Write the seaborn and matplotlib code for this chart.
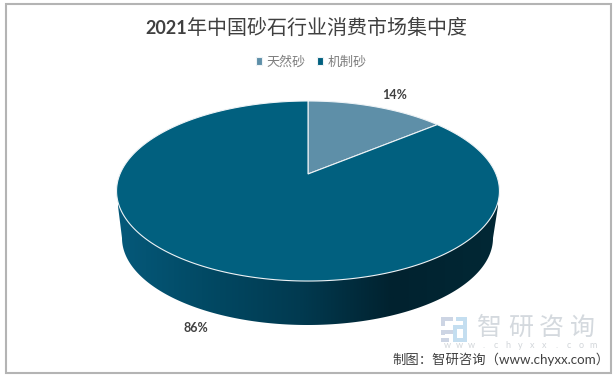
import numpy as np
import matplotlib
matplotlib.use("Agg")
import matplotlib.pyplot as plt
import seaborn as sns
from matplotlib.colors import LinearSegmentedColormap
from matplotlib.patches import Polygon, Rectangle

# data
categories = ["天然砂", "机制砂"]
shares = [14, 86]
title_year = "2021"
title_rest = "年中国砂石行业消费市场集中度"
source = "制图：智研咨询（www.chyxx.com）"

sns.set_theme(style="white")
plt.rcParams["font.family"] = ["Noto Sans CJK SC", "DejaVu Sans"]
colors = sns.color_palette(["#5e8fa8", "#01607f"])

fig = plt.figure(figsize=(6.14, 3.77), dpi=100)
ax = fig.add_axes([0, 0, 1, 1])

wedges, _ = ax.pie(shares, startangle=90, counterclock=False, colors=colors)


# flat circle -> tilted disc, in pixels (near side looks bigger)
def tilt(x, y):
    d = 1 + 0.189 * y
    return 308 + 188 * x / d, 174 - 86.8 * y / d


# side wall of the disc with a left to right shade
t = np.linspace(np.pi, 2 * np.pi, 200)
wall_x = 307.5 + 185.5 * np.cos(t)
wall_y = 238 - 87 * np.sin(t)
wall_pts = np.column_stack([wall_x, wall_y])
wall_pts = np.vstack([wall_pts, [[498, 206], [498, 190], [118, 190], [118, 206]]])
wall = Polygon(wall_pts, closed=True, fc="none", ec="none")
ax.add_patch(wall)
shade = LinearSegmentedColormap.from_list(
    "wall",
    [(0, "#05597a"), (0.22, "#024a65"), (0.48, "#013a50"), (0.72, "#01222f"), (1, "#012835")],
)
img = ax.imshow(np.linspace(0, 1, 256)[None, :], cmap=shade, aspect="auto",
                extent=(117, 499, 340, 180), zorder=1)
img.set_clip_path(wall)

# top face, rebuilt from the wedges of the pie
handles = []
for w, c in zip(wedges, colors):
    a = np.radians(np.linspace(w.theta1, w.theta2, 300))
    x, y = tilt(np.cos(a), np.sin(a))
    pts = np.vstack([[tilt(0, 0)], np.column_stack([x, y])])
    p = Polygon(pts, closed=True, fc=c, ec="#eef3f6", lw=0.8, zorder=2)
    ax.add_patch(p)
    handles.append(p)
    w.remove()

ax.set_aspect("auto")
ax.set_xlim(0, 614)
ax.set_ylim(377, 0)
ax.axis("off")

# outer frame
ax.add_patch(Rectangle((5.5, 3.5), 605, 369, fill=False, ec="#b4b4b4", lw=1.5, zorder=5))

# title: bold digits, regular CJK
ax.text(187, 28, title_year, ha="right", va="center", fontsize=13, fontweight="bold",
        family=["Lato", "DejaVu Sans"], color="#404040")
ax.text(187, 28, title_rest, ha="left", va="center", fontsize=14.4, color="#404040")

ax.legend(handles, categories, loc="center", bbox_to_anchor=(311 / 614, 1 - 62 / 377),
          ncol=2, frameon=False, fontsize=9.4, labelcolor="#7f7f7f", handlelength=0.5,
          handleheight=0.5, handletextpad=0.3, columnspacing=0.9)

# percent labels
label_pos = [(395, 95), (196, 328)]
for v, (lx, ly) in zip(shares, label_pos):
    ax.text(lx, ly, f"{v}%", ha="center", va="center", fontsize=9, fontweight="bold",
            family=["Lato", "DejaVu Sans"], color="#404040")

# watermark
logo_grey = [(441, 317, 12, 4), (441, 317, 4, 9), (441, 330, 12, 4), (441, 330, 4, 5),
             (441, 338, 8, 4)]
logo_blue = [(456, 317, 7, 4), (463, 317, 4, 25), (453, 325, 10, 4), (453, 325, 4, 17),
             (453, 338, 10, 4)]
for rx, ry, rw, rh in logo_grey:
    ax.add_patch(Rectangle((rx, ry), rw, rh, fc="#cdd5e4", ec="none", zorder=3))
for rx, ry, rw, rh in logo_blue:
    ax.add_patch(Rectangle((rx, ry), rw, rh, fc="#c4def0", ec="none", zorder=3))
for ch, cx in zip("智研咨询", [489.5, 520.5, 551.5, 582.5]):
    ax.text(cx, 328, ch, ha="center", va="center", fontsize=18, color="#d4d9de", zorder=3)
for ch, cx in zip("www.chyxx.com", np.linspace(447, 593, 13)):
    ax.text(cx, 346, ch, ha="center", va="center", fontsize=6.5, color="#d2d6da",
            family=["Lato", "DejaVu Sans"], zorder=3)

ax.text(610, 359, source, ha="right", va="center", fontsize=9.6, color="#404040",
        family=["Lato", "Noto Sans CJK SC"], zorder=4)

fig.savefig("out.png", dpi=100)
